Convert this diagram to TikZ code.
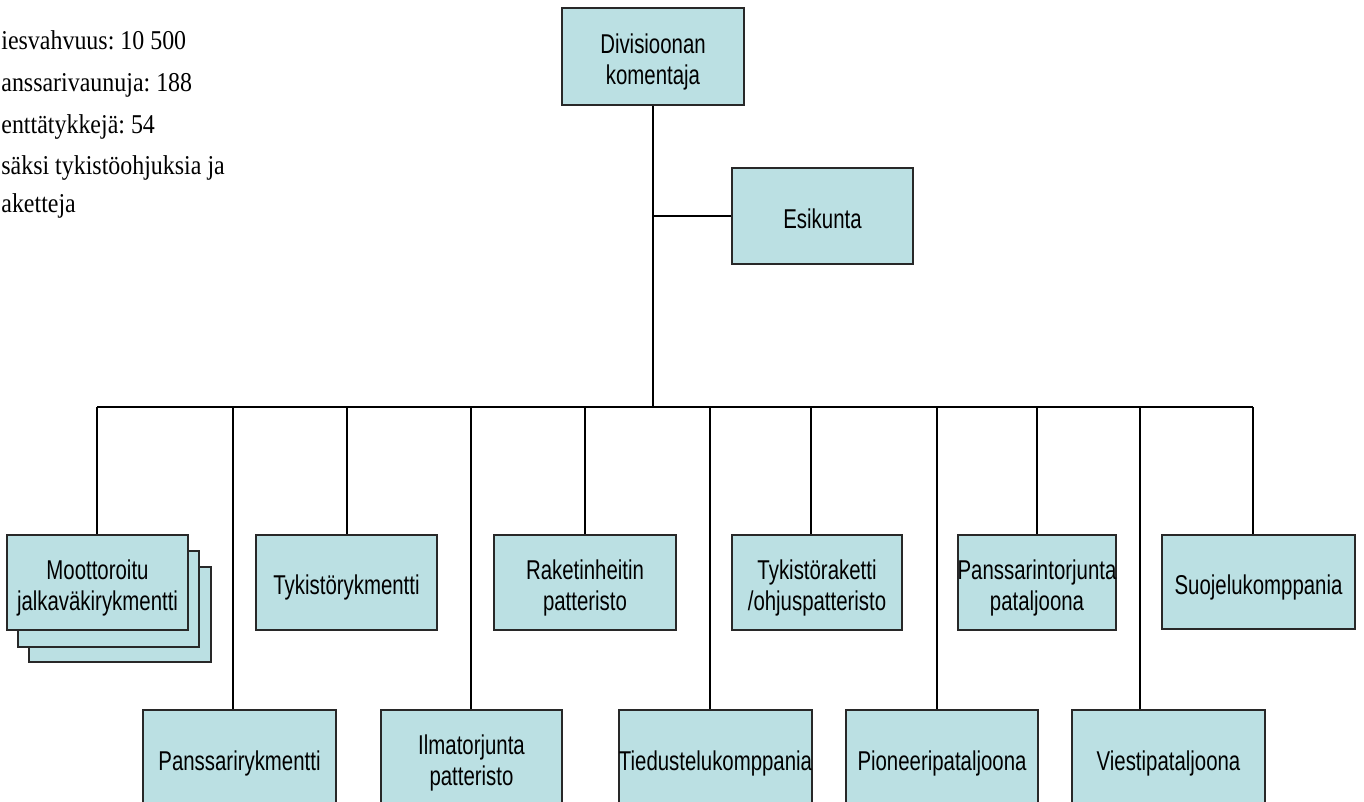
\documentclass[tikz,border=0pt]{standalone}
\usepackage{fontspec}
\setmainfont{Liberation Serif}[FakeStretch=0.88]
\newfontfamily\boxfont{Liberation Sans}[FakeStretch=0.75]
\definecolor{boxfill}{RGB}{187,224,227}
\definecolor{boxline}{RGB}{40,40,40}
\newcommand\topstrut{\rule{0pt}{15.4pt}}
\newcommand\botstrut{\rule[-3.2pt]{0pt}{3.2pt}}
\frenchspacing
\begin{document}
\begin{tikzpicture}[x=0.5pt,y=-0.5pt,
  orgbox/.style={draw=boxline, line width=1pt, fill=boxfill, inner sep=0pt,
    font=\boxfont\fontsize{13.6}{15.5}\selectfont, align=center},
  sz/.style 2 args={minimum width=#1*0.5pt, minimum height=#2*0.5pt},
  link/.style={line width=0.9pt, black},
  note/.style={anchor=base west, inner sep=0pt, font=\fontsize{13.6}{16}\selectfont}]
\useasboundingbox (0,0) rectangle (1364,802);
\clip (0,0) rectangle (1364,802);

% notes
\node[note] (n1) at (1,50) {iesvahvuus: 10 500};
\node[note] (n2) at (1,92) {anssarivaunuja: 188};
\node[note] (n3) at (1,134) {enttätykkejä: 54};
\node[note] (n4) at (1,175) {säksi tykistöohjuksia ja};
\node[note] (n5) at (1,213) {aketteja};

% top
\node[orgbox, sz={182}{97}] (cmd) at (653,56.5) {\topstrut Divisioonan\\komentaja\botstrut};
\node[orgbox, sz={181}{96}] (esk) at (822.5,216) {\topstrut Esikunta\botstrut};

% row 1
\node[orgbox, sz={182}{95}] (mot3) at (120,614.5) {};
\node[orgbox, sz={181}{96}] (mot2) at (108.5,599) {};
\node[orgbox, sz={181}{95}] (mot) at (97.5,582.5) {\topstrut Moottoroitu\\jalkaväkirykmentti\botstrut};
\node[orgbox, sz={181}{95}] (tyk) at (346.5,582.5) {\topstrut Tykistörykmentti\botstrut};
\node[orgbox, sz={182}{95}] (rak) at (585,582.5) {\topstrut Raketinheitin\\patteristo\botstrut};
\node[orgbox, sz={170}{95}] (tykr) at (817,582.5) {\topstrut Tykistöraketti\\/ohjuspatteristo\botstrut};
\node[orgbox, sz={158}{95}] (pst) at (1037,582.5) {\topstrut Panssarintorjunta\\pataljoona\botstrut};
\node[orgbox, sz={193}{94}] (suo) at (1258.5,582) {\topstrut Suojelukomppania\botstrut};

% row 2
\node[orgbox, sz={193}{96}] (pan) at (239.5,758) {\topstrut Panssarirykmentti\botstrut};
\node[orgbox, sz={181}{96}] (ilm) at (471.5,758) {\topstrut Ilmatorjunta\\patteristo\botstrut};
\node[orgbox, sz={193}{96}] (tie) at (715.5,758) {\topstrut Tiedustelukomppania\botstrut};
\node[orgbox, sz={192}{96}] (pio) at (942,758) {\topstrut Pioneeripataljoona\botstrut};
\node[orgbox, sz={193}{96}] (vie) at (1168.5,758) {\topstrut Viestipataljoona\botstrut};

% connectors
\coordinate (busL) at (97,407);
\coordinate (busR) at (1253,407);
\draw[link] (cmd.south) -- (cmd.south |- busL);
\draw[link] (cmd.south |- esk.west) -- (esk.west);
\draw[link] (busL) -- (busR);

\draw[link] (busL) -- (busL |- mot.north);
\draw[link] ([xshift=0.25pt]tyk.north |- busL) -- ([xshift=0.25pt]tyk.north);
\draw[link] (rak.north |- busL) -- (rak.north);
\draw[link] ([xshift=-3pt]tykr.north |- busL) -- ([xshift=-3pt]tykr.north);
\draw[link] (pst.north |- busL) -- (pst.north);
\draw[link] (busR) -- (busR |- suo.north);

\draw[link] ([xshift=-3.25pt]pan.north |- busL) -- ([xshift=-3.25pt]pan.north);
\draw[link] ([xshift=-0.25pt]ilm.north |- busL) -- ([xshift=-0.25pt]ilm.north);
\draw[link] ([xshift=-2.75pt]tie.north |- busL) -- ([xshift=-2.75pt]tie.north);
\draw[link] ([xshift=-2.5pt]pio.north |- busL) -- ([xshift=-2.5pt]pio.north);
\draw[link] ([xshift=-14.25pt]vie.north |- busL) -- ([xshift=-14.25pt]vie.north);
\end{tikzpicture}
\end{document}
